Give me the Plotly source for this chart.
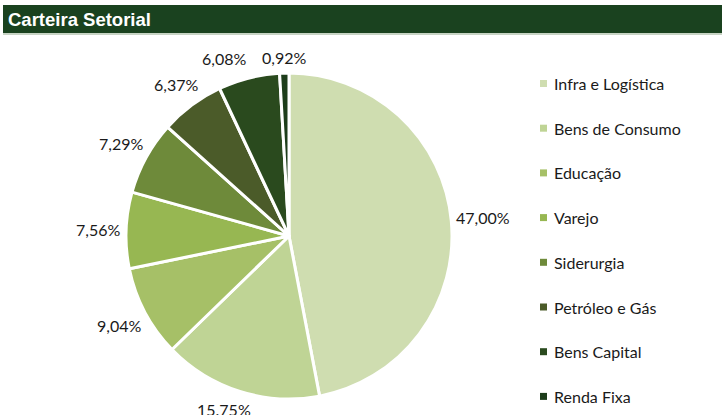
import math
import plotly.graph_objects as go

# ---- data ----
categories = ["Infra e Logística", "Bens de Consumo", "Educação", "Varejo",
              "Siderurgia", "Petróleo e Gás", "Bens Capital", "Renda Fixa"]
values = [47.00, 15.75, 9.04, 7.56, 7.29, 6.37, 6.08, 0.92]
value_labels = ["47,00%", "15.75%", "9,04%", "7,56%", "7,29%", "6,37%", "6,08%", "0,92%"]
colors = ["#cfddb0", "#bfd495", "#a6c067", "#97b752", "#6e8a3a", "#4b5b29", "#2a4a1e", "#1d3d1a"]
title_text = "Carteira Setorial"

W, H = 722, 415
def px(x):
    return x / W
def py(y):
    return 1 - y / H

# pie geometry (pixels)
left, right, top, bottom = 126, 452, 73, 399
cx, cy = (left + right) / 2, (top + bottom) / 2
R = (right - left) / 2

fig = go.Figure()
fig.add_trace(go.Pie(
    labels=categories, values=values, sort=False, direction="clockwise", rotation=0,
    marker=dict(colors=colors, line=dict(color="white", width=3)),
    textinfo="none", showlegend=False, hoverinfo="label+percent",
    domain=dict(x=[px(left), px(right)], y=[py(bottom), py(top)]),
))

FS = 16
label_font = dict(family="Lato, Open Sans, sans-serif", size=FS, color="#1a1a1a")
annotations = []
shapes = []

# data labels placed just outside each slice (computed from slice angles)
total = sum(values)
cum = 0.0
gap, th = 8, 14
pos = []
for v, t in zip(values, value_labels):
    mid = 2 * math.pi * (cum + v / 2) / total
    cum += v
    s, c = math.sin(mid), math.cos(mid)
    tw = 0.53 * FS * len(t) * 0.85 + 4
    d = R + gap + abs(s) * tw / 2 + abs(c) * th / 2
    x = cx + d * s
    y = cy - d * c
    if y > 409:
        y = 409
        x = cx + math.copysign(math.sqrt(max(d * d - (y - cy) ** 2, 0)), s)
    y = max(y, 51)
    pos.append([x, y, tw])
# resolve horizontal overlaps among labels in the same row (top area)
for i in range(len(pos) - 1, 0, -1):
    a, b = pos[i - 1], pos[i]
    if abs(a[1] - b[1]) < th and a[0] < b[0] and a[0] + a[2] / 2 + 20 > b[0] - b[2] / 2:
        a[0] = b[0] - b[2] / 2 - 20 - a[2] / 2
for (x, y, tw), t in zip(pos, value_labels):
    annotations.append(dict(x=px(x), y=py(y), xref="paper", yref="paper", text=t,
                            showarrow=False, font=label_font, xanchor="center", yanchor="middle"))

# legend
leg_y0, leg_step = 83.5, 44.7
for i, (c, col) in enumerate(zip(categories, colors)):
    yy = leg_y0 + i * leg_step
    shapes.append(dict(type="rect", xref="paper", yref="paper",
                       x0=px(540), x1=px(547), y0=py(yy + 3.5), y1=py(yy - 3.5),
                       fillcolor=col, line=dict(width=0)))
    annotations.append(dict(x=px(552), y=py(yy), xref="paper", yref="paper", text=c,
                            showarrow=False, font=label_font, xanchor="left", yanchor="middle"))

# title bar
shapes.append(dict(type="rect", xref="paper", yref="paper", x0=px(3), x1=1, y0=py(33), y1=py(5),
                   fillcolor="#1a421f", line=dict(width=0), layer="below"))
shapes.append(dict(type="line", xref="paper", yref="paper", x0=px(3), x1=1, y0=py(34), y1=py(34),
                   line=dict(color="#8fa889", width=1)))
annotations.append(dict(x=px(6), y=py(19.5), xref="paper", yref="paper", text="<b>%s</b>" % title_text,
                        showarrow=False, xanchor="left", yanchor="middle",
                        font=dict(family="Liberation Sans, Arial, sans-serif",
                                  size=18.5, color="white")))

fig.update_layout(width=W, height=H, margin=dict(l=0, r=0, t=0, b=0),
                  paper_bgcolor="white", plot_bgcolor="white",
                  annotations=annotations, shapes=shapes)
fig.write_html("out.html", config={"displayModeBar": False},
               post_script="document.body.style.margin='0';document.body.style.overflow='hidden';")
